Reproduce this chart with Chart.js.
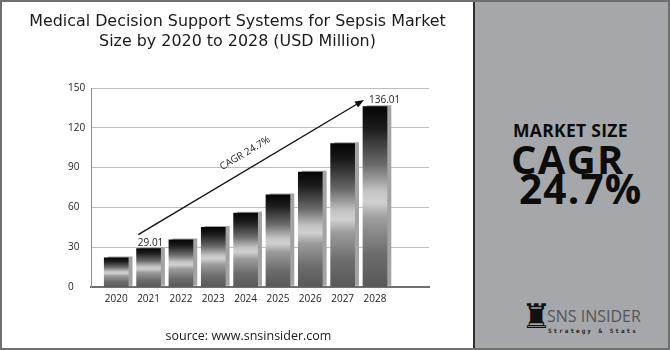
<!DOCTYPE html>
<html>
<head>
<meta charset="utf-8">
<script src="https://cdn.jsdelivr.net/npm/chart.js@4.4.0/dist/chart.umd.min.js"></script>
<style>
  html, body { margin: 0; padding: 0; background: #fff; }
  #frame { position: relative; width: 670px; height: 350px; box-sizing: border-box; border: 2px solid #707070; overflow: hidden; background: #fff; }
  #left { position: absolute; left: 0; top: 0; width: 471px; height: 346px; }
  #title { position: absolute; left: 0; top: 9px; width: 471px; text-align: center; font-family: "DejaVu Sans", sans-serif; font-size: 15.9px; line-height: 20px; letter-spacing: 0px; color: #1a1a1a; white-space: nowrap; }
  #sep { position: absolute; left: 471px; top: 0; width: 2px; height: 346px; background: #2e2e2e; }
  #right { position: absolute; left: 473px; top: 0; width: 195px; height: 346px; background: #a6a7ab; font-family: "Open Sans", sans-serif; color: #0c0c0c; }
  .t { position: absolute; white-space: nowrap; font-weight: 700; }
  #ms { left: 38px; top: 116px; font-size: 17.5px; letter-spacing: 0.3px; }
  #cagr { left: 36px; top: 131px; font-size: 40px; line-height: 52px; letter-spacing: 1.3px; }
  #pct { left: 44px; top: 162px; font-size: 40.5px; line-height: 50px; letter-spacing: 1.2px; }
  #rook { position: absolute; left: 46px; top: 296px; font-size: 34px; line-height: 36px; color: #111; font-family: "DejaVu Sans", sans-serif; }
  #sns { position: absolute; left: 72px; top: 303px; font-size: 16px; color: #555; font-family: "Open Sans", sans-serif; font-weight: 400; }
  #tag { position: absolute; left: 73px; top: 325px; font-size: 6px; color: #222; font-family: "DejaVu Sans Mono", monospace; font-weight: bold; letter-spacing: 2px; }
</style>
</head>
<body>
<div id="frame">
  <div id="left"><canvas id="c" width="471" height="346"></canvas></div>
  <div id="title"></div>
  <div id="sep"></div>
  <div id="right">
    <div class="t" id="ms">MARKET SIZE</div>
    <div class="t" id="cagr">CAGR</div>
    <div class="t" id="pct">24.7%</div>
    <div id="rook">♜</div>
    <div id="sns">SNS INSIDER</div>
    <div id="tag">Strategy &amp; Stats</div>
  </div>
</div>
<script>
// ---- data ----
const years = ["2020", "2021", "2022", "2023", "2024", "2025", "2026", "2027", "2028"];
const marketSize = [22.0, 29.01, 35.6, 44.9, 55.8, 69.5, 86.6, 108.1, 136.01];
const yTicks = [0, 30, 60, 90, 120, 150];
const titleLines = ["Medical Decision Support Systems for Sepsis Market", "Size by 2020 to 2028 (USD Million)"];
const sourceText = "source: www.snsinsider.com";
const cagrText = "CAGR 24.7%";
const labelledPoints = [1, 8]; // indices whose values are printed
// arrow endpoints in data space (x index, y value)
const arrowStart = { x: 0.68, y: 39.5 };
const arrowEnd = { x: 7.66, y: 141 };

const titleEl = document.getElementById('title');
titleLines.forEach(line => { const d = document.createElement('div'); d.textContent = line; titleEl.appendChild(d); });

function barGradient(ctx) {
  const chart = ctx.chart;
  const area = chart.chartArea;
  if (!area || ctx.type !== 'data') return '#555';
  const y = chart.scales.y;
  const top = y.getPixelForValue(ctx.raw.y);
  const bottom = y.getPixelForValue(0);
  const g = chart.ctx.createLinearGradient(0, top, 0, bottom);
  g.addColorStop(0.00, '#050505');
  g.addColorStop(0.12, '#1c1c1c');
  g.addColorStop(0.32, '#6a6a6a');
  g.addColorStop(0.47, '#c4c4c4');
  g.addColorStop(0.53, '#d0d0d0');
  g.addColorStop(0.62, '#9c9c9c');
  g.addColorStop(0.82, '#6c6c6c');
  g.addColorStop(1.00, '#585858');
  return g;
}

const shadowPlugin = {
  id: 'barShadow',
  beforeDatasetsDraw(chart) {
    const c = chart.ctx;
    c.save();
    c.shadowColor = '#a3a3a3';
    c.shadowOffsetX = 4;
    c.shadowOffsetY = -1;
    c.shadowBlur = 0;
  },
  afterDatasetsDraw(chart) {
    chart.ctx.restore();
  }
};

const annotPlugin = {
  id: 'annot',
  afterDraw(chart) {
    const c = chart.ctx;
    const xs = chart.scales.x, ys = chart.scales.y;
    const x1 = xs.getPixelForValue(arrowStart.x), y1 = ys.getPixelForValue(arrowStart.y);
    const x2 = xs.getPixelForValue(arrowEnd.x), y2 = ys.getPixelForValue(arrowEnd.y);
    const ang = Math.atan2(y2 - y1, x2 - x1);
    c.save();
    c.strokeStyle = '#111';
    c.fillStyle = '#111';
    c.lineWidth = 1.4;
    c.beginPath();
    c.moveTo(x1, y1);
    c.lineTo(x2 - 6 * Math.cos(ang), y2 - 6 * Math.sin(ang));
    c.stroke();
    c.beginPath();
    c.moveTo(x2, y2);
    c.lineTo(x2 - 9 * Math.cos(ang) + 3.5 * Math.sin(ang), y2 - 9 * Math.sin(ang) - 3.5 * Math.cos(ang));
    c.lineTo(x2 - 9 * Math.cos(ang) - 3.5 * Math.sin(ang), y2 - 9 * Math.sin(ang) + 3.5 * Math.cos(ang));
    c.closePath();
    c.fill();
    const mx = (x1 + x2) / 2, my = (y1 + y2) / 2;
    c.translate(mx, my);
    c.rotate(ang);
    c.font = '10px "Open Sans", sans-serif';
    c.fillStyle = '#222';
    c.textAlign = 'center';
    c.textBaseline = 'bottom';
    c.fillText(cagrText, 2, -10);
    c.restore();
    c.save();
    c.font = '10px "Open Sans", sans-serif';
    c.fillStyle = '#222';
    c.textBaseline = 'bottom';
    labelledPoints.forEach((i, k) => {
      const px = xs.getPixelForValue(i);
      const py = ys.getPixelForValue(marketSize[i]);
      if (k === labelledPoints.length - 1) {
        c.textAlign = 'left';
        c.fillText(marketSize[i].toFixed(2), px - 6, py - 1);
      } else {
        c.textAlign = 'center';
        c.fillText(marketSize[i].toFixed(2), px + 2, py);
      }
    });
    c.restore();
  }
};

new Chart(document.getElementById('c'), {
  type: 'bar',
  data: {
    datasets: [{
      data: marketSize.map((v, i) => ({ x: i, y: v })),
      backgroundColor: barGradient,
      borderWidth: 0,
      barThickness: 24
    }]
  },
  options: {
    responsive: false,
    animation: false,
    events: [],
    layout: { padding: { left: 66, right: 44, top: 86, bottom: 4 } },
    plugins: {
      legend: { display: false },
      tooltip: { enabled: false },
      title: { display: false },
      subtitle: {
        display: true,
        position: 'bottom',
        text: sourceText,
        color: '#1a1a1a',
        font: { family: '"Open Sans", sans-serif', size: 12.5, weight: '400' },
        padding: { top: 18, bottom: 0 }
      }
    },
    scales: {
      x: {
        type: 'linear',
        offset: false,
        min: -0.78,
        max: 9.67,
        grid: { display: false, drawTicks: false },
        border: { display: true, color: '#707070', width: 2 },
        ticks: {
          stepSize: 1,
          autoSkip: false,
          padding: 6,
          color: '#222',
          font: { family: '"Open Sans", sans-serif', size: 10 },
          callback: (v) => (Number.isInteger(v) && v >= 0 && v < years.length) ? years[v] : ''
        },
        afterBuildTicks: (s) => { s.ticks = years.map((_, i) => ({ value: i })); }
      },
      y: {
        min: yTicks[0],
        max: yTicks[yTicks.length - 1],
        grid: { color: '#bdbdbd', lineWidth: 1, drawTicks: false },
        border: { display: true, color: '#8a8a8a', width: 1 },
        ticks: {
          stepSize: 30,
          crossAlign: 'far',
          color: '#222',
          font: { family: '"Open Sans", sans-serif', size: 10 }
        },
        afterFit: (s) => { s.width = 23; }
      }
    }
  },
  plugins: [shadowPlugin, annotPlugin]
});
</script>
</body>
</html>
